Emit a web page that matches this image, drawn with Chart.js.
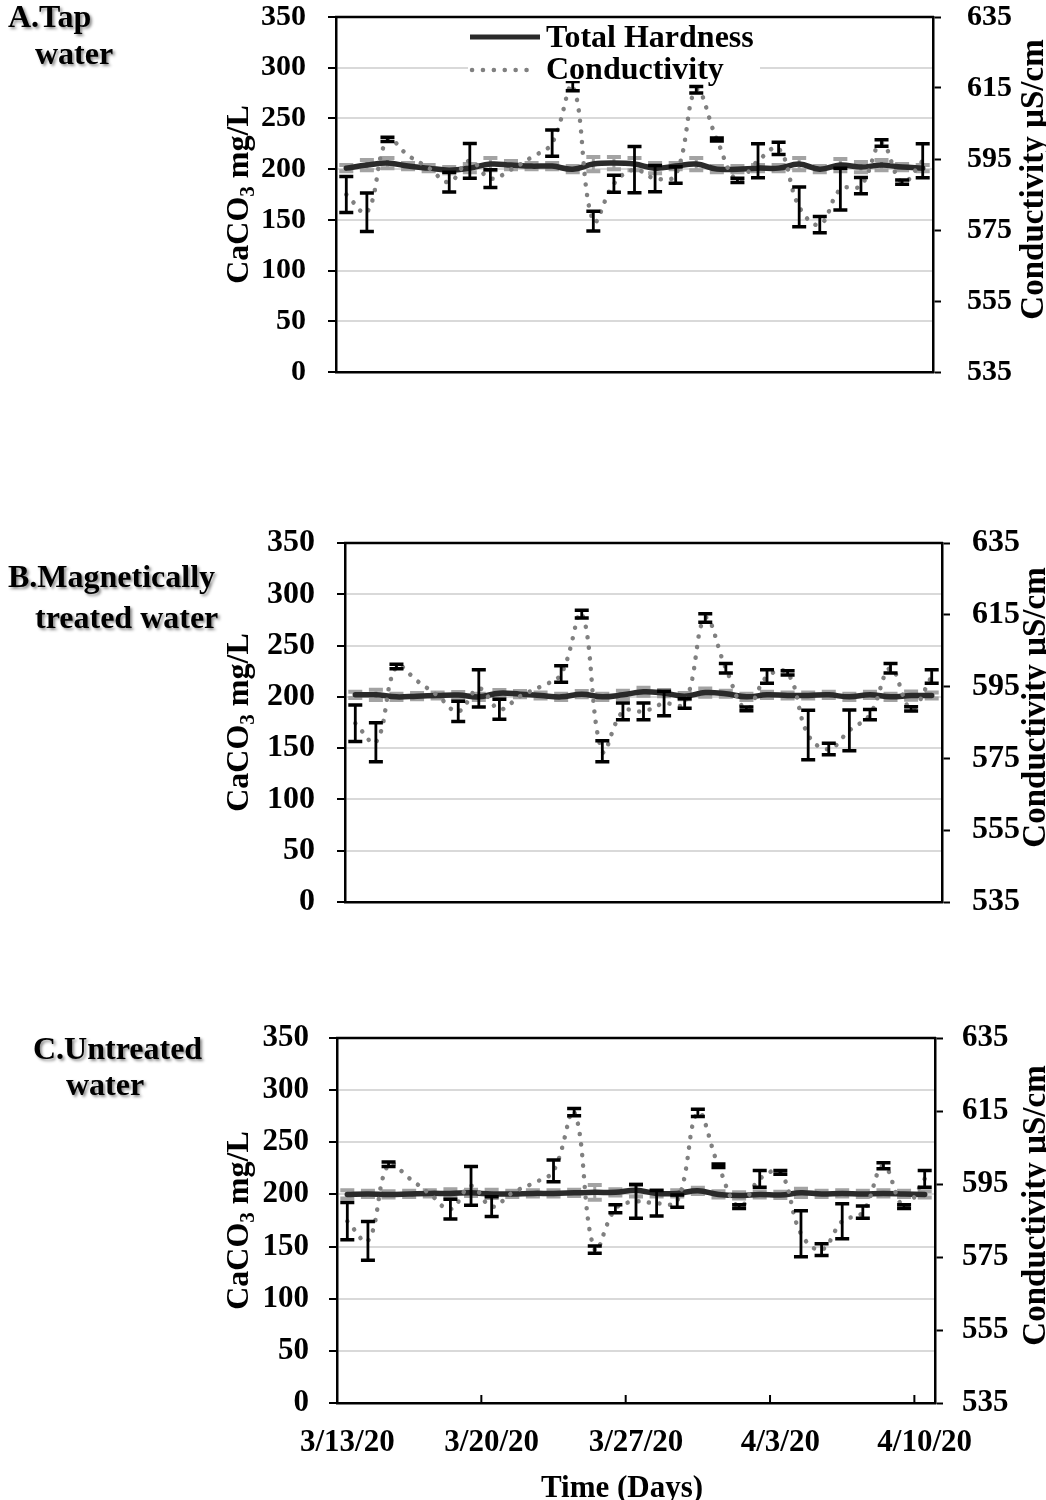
<!DOCTYPE html>
<html>
<head>
<meta charset="utf-8">
<script src="https://cdn.jsdelivr.net/npm/chart.js@4.4.1/dist/chart.umd.min.js"></script>
<style>
  html, body { margin: 0; padding: 0; background: #fff; }
  #page { position: relative; width: 1046px; height: 1500px; background: #fff; overflow: hidden; }
  canvas { position: absolute; left: 0; }
</style>
</head>
<body>
<div id="page">
  <canvas id="cA" width="1046" height="520" style="top:-40px"></canvas>
  <canvas id="cB" width="1046" height="480" style="top:480px"></canvas>
  <canvas id="cC" width="1046" height="540" style="top:960px"></canvas>
</div>
<script>
// ---------------- DATA ----------------
const dates = ['3/13/20','3/14/20','3/15/20','3/16/20','3/17/20','3/18/20','3/19/20',
  '3/20/20','3/21/20','3/22/20','3/23/20','3/24/20','3/25/20','3/26/20',
  '3/27/20','3/28/20','3/29/20','3/30/20','3/31/20','4/1/20','4/2/20',
  '4/3/20','4/4/20','4/5/20','4/6/20','4/7/20','4/8/20','4/9/20','4/10/20'];

const seriesNames = ['Total Hardness', 'Conductivity'];
const hardnessTicks = [0, 50, 100, 150, 200, 250, 300, 350];
const conductivityTicks = [535, 555, 575, 595, 615, 635];

// A. Tap water
const hardA    = [201, 204, 206, 203, 201, 199, 201, 205, 204, 203, 203, 200, 205, 206, 205, 201, 203, 205, 200, 200, 201, 201, 205, 200, 204, 202, 204, 202, 201];
const hardErrA = [3, 5, 5, 3, 3, 3, 4, 6, 4, 3, 3, 3, 7, 6, 6, 5, 3, 6, 3, 3, 3, 3, 6, 3, 6, 5, 5, 3, 3];
const condA    = [585, 580, 600.5, 596, 592.5, 588.5, 594.5, 589.5, 592, 595.5, 599.5, 615.5, 577.5, 588, 592, 589.5, 590.5, 614.5, 600.5, 589, 594.5, 598, 581.5, 576.5, 586.5, 587.5, 599.5, 588.5, 594.5];
const condErrA = [5.1, 5.4, 0.6, 0, 0, 2.8, 4.9, 2.5, 0, 0, 3.7, 1.3, 2.8, 2.4, 6.5, 3.7, 2.3, 0.9, 0.4, 0.6, 4.8, 1.7, 5.6, 2.3, 5.9, 2.3, 0.9, 0.6, 4.8];

// B. Magnetically treated water
const hardB    = [202, 202, 200, 200.7, 201.3, 201.7, 200, 203.6, 202.6, 201.3, 200, 202.6, 200, 202, 205, 203.6, 200.7, 204.2, 203, 200, 202, 201.3, 201.3, 202, 200, 202, 200, 201.3, 201.3];
const hardErrB = [3, 5, 3, 3, 3, 3, 3, 3, 3, 3, 3, 3, 3, 4, 4, 3, 3, 4, 3, 3, 3, 3, 3, 3, 3, 3, 3, 4, 3];
const condB    = [584.8, 579.5, 600.6, 596.6, 592.5, 588.1, 594.5, 588.7, 592.3, 595, 598.5, 615.2, 577, 588.1, 588.1, 590.3, 590.3, 614.1, 600.1, 588.8, 597.8, 598.8, 581.5, 577.6, 582.8, 587.2, 600.1, 588.8, 597.8];
const condErrB = [5.1, 5.4, 0.6, 0, 0, 2.8, 5.2, 2.8, 0, 0, 2.3, 1.1, 2.9, 2.3, 2.3, 3.4, 1.3, 1.2, 1.3, 0.5, 1.9, 0.6, 6.9, 1.6, 5.7, 1.4, 1.3, 0.6, 1.9];

// C. Untreated water
const hardC    = [200, 200.5, 200, 200.5, 201, 201, 201.5, 200.5, 200.5, 201, 201, 201.5, 202, 202, 204, 201, 201, 203.5, 200, 199, 200, 199.5, 201.5, 200.5, 201, 200.5, 201, 200.5, 200];
const hardErrC = [4, 3, 3, 3, 3, 4, 3, 4, 3, 3, 3, 3, 7, 3, 6, 3, 3, 3, 3, 3, 3, 3, 4, 3, 3, 3, 3, 3, 3];
const condC    = [584.8, 579.4, 600.4, 596.6, 592.3, 588.1, 594.5, 588.8, 592.6, 595.2, 598.6, 614.7, 577, 588.2, 590.2, 589.7, 590.3, 614.5, 600, 588.8, 596.4, 598.2, 581.4, 577, 584.8, 587.3, 600, 588.8, 596.4];
const condErrC = [5.1, 5.3, 0.6, 0, 0, 2.7, 5.3, 2.7, 0, 0, 3, 1, 1, 1.1, 4.6, 3.5, 1.7, 1, 0.5, 0.5, 2.3, 0.5, 6.3, 1.6, 4.8, 1.7, 0.8, 0.5, 2.3];

const panelTitlesA = ['A.Tap', 'water'];
const panelTitlesB = ['B.Magnetically', 'treated water'];
const panelTitlesC = ['C.Untreated', 'water'];
const yTitleMain = 'CaCO';
const yTitleSub = '3';
const yTitleRest = ' mg/L';
const y2Title = 'Conductivity µS/cm';
const xTitle = 'Time (Days)';

// ---------------- STYLE / LAYOUT (absolute page coordinates) ----------------
const FONT = '"Liberation Serif", "Times New Roman", Times, serif';
const HARD_COLOR = '#2a2a2a';
const COND_COLOR = '#808080';

const panels = {
  cA: { top0: -40, W: 1046, H: 520, area: { left: 336, right: 933, top: 17, bottom: 372 },
        titles: panelTitlesA, titlePos: [[8, 27], [35, 64]], tickSize: 30, lPad: 22, rPad: 26,
        rTitleX: 1032, hard: hardA, hardErr: hardErrA, cond: condA, condErr: condErrA,
        showX: false, legend: true },
  cB: { top0: 480, W: 1046, H: 480, area: { left: 345, right: 942, top: 543, bottom: 902 },
        titles: panelTitlesB, titlePos: [[8, 587], [35, 628]], tickSize: 32, lPad: 22, rPad: 22,
        rTitleX: 1034, hard: hardB, hardErr: hardErrB, cond: condB, condErr: condErrB,
        showX: false, legend: false },
  cC: { top0: 960, W: 1046, H: 540, area: { left: 337, right: 935, top: 1038, bottom: 1403 },
        titles: panelTitlesC, titlePos: [[33, 1059], [66, 1095]], tickSize: 31, lPad: 20, rPad: 19,
        rTitleX: 1034, hard: hardC, hardErr: hardErrC, cond: condC, condErr: condErrC,
        showX: true, legend: false }
};

function drawBars(chart, axisId, vals, errs, color, lw, capW, capLw) {
  const ctx = chart.ctx, xs = chart.scales.x, ys = chart.scales[axisId];
  ctx.save();
  ctx.strokeStyle = color;
  ctx.lineCap = 'butt';
  vals.forEach((v, i) => {
    const e = errs[i];
    if (!e) return;
    const x = xs.getPixelForValue(i);
    const t = ys.getPixelForValue(v + e);
    const b = ys.getPixelForValue(v - e);
    ctx.lineWidth = lw;
    ctx.beginPath(); ctx.moveTo(x, t); ctx.lineTo(x, b); ctx.stroke();
    ctx.lineWidth = capLw;
    ctx.beginPath();
    ctx.moveTo(x - capW / 2, t); ctx.lineTo(x + capW / 2, t);
    ctx.moveTo(x - capW / 2, b); ctx.lineTo(x + capW / 2, b);
    ctx.stroke();
  });
  ctx.restore();
}

const decoPlugin = {
  id: 'deco',
  beforeDatasetsDraw(chart) {
    const p = panels[chart.canvas.id];
    drawBars(chart, 'y', p.hard, p.hardErr, '#a3a3a3', 3, 14, 4);
  },
  afterDatasetsDraw(chart) {
    const p = panels[chart.canvas.id];
    drawBars(chart, 'y2', p.cond, p.condErr, '#000', 2.8, 14, 3.5);
  },
  afterDraw(chart) {
    const p = panels[chart.canvas.id];
    const ctx = chart.ctx, ca = chart.chartArea, xs = chart.scales.x;
    ctx.save();
    // legend (drawn over plot with white background)
    if (p.legend) {
      const ds = chart.data.datasets;
      const hard = ds.find(d => d.label === seriesNames[0]);
      const cond = ds.find(d => d.label === seriesNames[1]);
      ctx.save();
      ctx.translate(0, -p.top0);
      ctx.fillStyle = '#fff';
      ctx.fillRect(468, 19, 292, 62);
      ctx.lineCap = 'butt'; ctx.setLineDash([]);
      ctx.strokeStyle = hard.borderColor; ctx.lineWidth = 5;
      ctx.beginPath(); ctx.moveTo(470, 37); ctx.lineTo(540, 37); ctx.stroke();
      ctx.strokeStyle = cond.borderColor; ctx.lineWidth = 4.5; ctx.lineCap = 'round';
      ctx.setLineDash([0.1, 10.8]);
      ctx.beginPath(); ctx.moveTo(472, 70); ctx.lineTo(537, 70); ctx.stroke();
      ctx.setLineDash([]);
      ctx.fillStyle = '#000';
      ctx.font = 'bold 32px ' + FONT; ctx.textAlign = 'left'; ctx.textBaseline = 'alphabetic';
      ctx.fillText(hard.label, 546, 47);
      ctx.fillText(cond.label, 546, 79);
      ctx.restore();
    }
    // top border of plot area
    ctx.strokeStyle = '#000'; ctx.lineWidth = 2.5;
    ctx.beginPath(); ctx.moveTo(ca.left - 1, ca.top); ctx.lineTo(ca.right + 1, ca.top); ctx.stroke();
    // inward x tick marks every 7 days (category boundaries)
    if (p.showX) {
      ctx.lineWidth = 2;
      [7, 14, 21, 28].forEach(k => {
        const bx = (xs.getPixelForValue(k - 1) + xs.getPixelForValue(k)) / 2;
        ctx.beginPath(); ctx.moveTo(bx, ca.bottom); ctx.lineTo(bx, ca.bottom - 8); ctx.stroke();
      });
    }
    ctx.fillStyle = '#000';
    const cy = (ca.top + ca.bottom) / 2;
    // left axis title with subscript
    ctx.save();
    ctx.translate(237, cy);
    ctx.rotate(-Math.PI / 2);
    const fMain = 'bold 32px ' + FONT, fSub = 'bold 21px ' + FONT;
    ctx.font = fMain; const w1 = ctx.measureText(yTitleMain).width; const w3 = ctx.measureText(yTitleRest).width;
    ctx.font = fSub; const w2 = ctx.measureText(yTitleSub).width;
    const x0 = -(w1 + w2 + w3) / 2;
    ctx.textBaseline = 'alphabetic'; ctx.textAlign = 'left';
    ctx.font = fMain; ctx.fillText(yTitleMain, x0, 11);
    ctx.font = fSub; ctx.fillText(yTitleSub, x0 + w1, 17);
    ctx.font = fMain; ctx.fillText(yTitleRest, x0 + w1 + w2, 11);
    ctx.restore();
    // right axis title
    ctx.save();
    ctx.translate(p.rTitleX, cy - 15);
    ctx.rotate(-Math.PI / 2);
    ctx.font = 'bold 33px ' + FONT; ctx.textAlign = 'center'; ctx.textBaseline = 'alphabetic';
    ctx.fillText(y2Title, 0, 11);
    ctx.restore();
    // absolute-positioned texts
    ctx.save();
    ctx.translate(0, -p.top0);
    if (p.showX) {
      ctx.font = 'bold 31px ' + FONT; ctx.textAlign = 'center'; ctx.textBaseline = 'alphabetic';
      ctx.fillText(xTitle, 622, 1497);
    }
    ctx.font = 'bold 32px ' + FONT; ctx.textAlign = 'left'; ctx.textBaseline = 'alphabetic';
    ctx.shadowColor = 'rgba(0,0,0,0.45)'; ctx.shadowOffsetX = 2; ctx.shadowOffsetY = 2; ctx.shadowBlur = 3;
    p.titles.forEach((t, i) => ctx.fillText(t, p.titlePos[i][0], p.titlePos[i][1]));
    ctx.restore();
    ctx.restore();
  }
};

function makeChart(id) {
  const p = panels[id];
  const a = p.area;
  const tickFont = { family: FONT, weight: 'bold', size: p.tickSize, lineHeight: 1 };
  return new Chart(document.getElementById(id), {
    type: 'line',
    data: {
      labels: dates,
      datasets: [
        { label: seriesNames[1], data: p.cond, yAxisID: 'y2',
          borderColor: COND_COLOR, borderWidth: 4.5, borderDash: [0.1, 10.5], borderCapStyle: 'round',
          pointRadius: 0, tension: 0.4, fill: false },
        { label: seriesNames[0], data: p.hard, yAxisID: 'y',
          borderColor: HARD_COLOR, borderWidth: 5.5, borderCapStyle: 'round', borderJoinStyle: 'round',
          pointRadius: 0, tension: 0.4, fill: false }
      ]
    },
    options: {
      responsive: false, animation: false, devicePixelRatio: 1,
      layout: { padding: { top: a.top - p.top0, left: 0, right: 0, bottom: 0 } },
      plugins: { legend: { display: false }, tooltip: { enabled: false } },
      scales: {
        x: {
          type: 'category', offset: true,
          grid: { display: true, offset: true, drawOnChartArea: false, drawTicks: false },
          border: { display: true, color: '#000', width: 2.5 },
          ticks: {
            display: p.showX, autoSkip: false, maxRotation: 0, minRotation: 0,
            color: '#000', font: { family: FONT, weight: 'bold', size: 31, lineHeight: 1 }, padding: 24,
            callback: (v, i) => (i % 7 === 0 ? dates[i] : '')
          },
          afterFit: s => { s.height = p.top0 + p.H - a.bottom; }
        },
        y: {
          position: 'left', min: hardnessTicks[0], max: hardnessTicks[hardnessTicks.length - 1],
          afterBuildTicks: s => { s.ticks = hardnessTicks.map(v => ({ value: v })); },
          grid: { color: '#d9d9d9', lineWidth: 2, drawTicks: true, tickLength: 8, tickColor: '#000', tickWidth: 2 },
          border: { display: true, color: '#000', width: 2.5 },
          ticks: { color: '#000', font: tickFont, padding: p.lPad },
          afterFit: s => { s.width = a.left; }
        },
        y2: {
          position: 'right', min: conductivityTicks[0], max: conductivityTicks[conductivityTicks.length - 1],
          afterBuildTicks: s => { s.ticks = conductivityTicks.map(v => ({ value: v })); },
          grid: { drawOnChartArea: false, drawTicks: true, tickLength: 8, tickColor: '#000', tickWidth: 2 },
          border: { display: true, color: '#000', width: 2.5 },
          ticks: { color: '#000', font: tickFont, padding: p.rPad },
          afterFit: s => { s.width = p.W - a.right; }
        }
      }
    },
    plugins: [decoPlugin]
  });
}

['cA', 'cB', 'cC'].forEach(makeChart);
</script>
</body>
</html>
